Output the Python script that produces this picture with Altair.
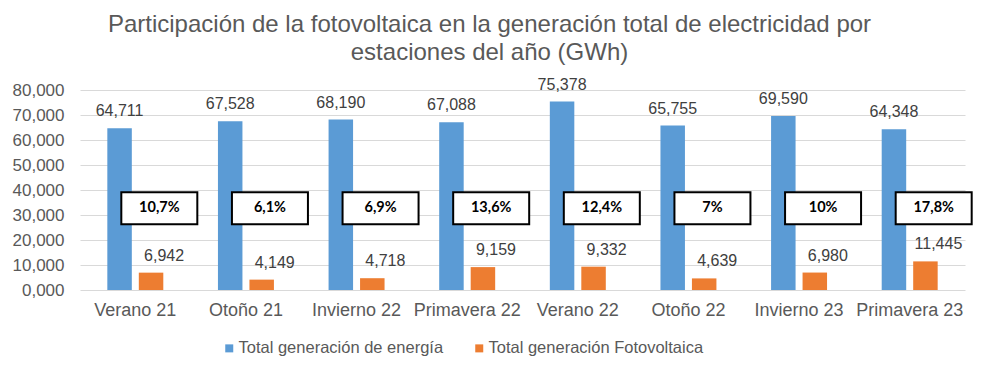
import altair as alt
import pandas as pd

categories = ["Verano 21", "Otoño 21", "Invierno 22", "Primavera 22",
              "Verano 22", "Otoño 22", "Invierno 23", "Primavera 23"]
total_gen = [64711, 67528, 68190, 67088, 75378, 65755, 69590, 64348]
fv_gen = [6942, 4149, 4718, 9159, 9332, 4639, 6980, 11445]
pct_labels = ["10,7%", "6,1%", "6,9%", "13,6%", "12,4%", "7%", "10%", "17,8%"]
series = ["Total generación de energía", "Total generación Fotovoltaica"]
colors = ["#5B9BD5", "#ED7D31"]

rows = []
for c, t, f in zip(categories, total_gen, fv_gen):
    rows.append({"cat": c, "serie": series[0], "value": t})
    rows.append({"cat": c, "serie": series[1], "value": f})
df = pd.DataFrame(rows)

box_df = pd.DataFrame({"cat": categories, "pct": pct_labels,
                       "y1": [26300] * 8, "y2": [39100] * 8, "ym": [32700] * 8})

x_axis = alt.Axis(labelFont="Liberation Sans", labelFontSize=18,
                  labelColor="#595959", labelAngle=0, ticks=False,
                  domain=False, labelPadding=11)
y_axis = alt.Axis(values=list(range(0, 80001, 10000)), labelOverlap=False,
                  labelExpr="datum.value == 0 ? '0,000' : format(datum.value, ',')",
                  labelFont="Liberation Sans", labelFontSize=17,
                  labelColor="#595959", ticks=False, domain=False,
                  labelPadding=16, gridColor="#D9D9D9", gridWidth=1)
x_scale = alt.Scale(paddingInner=0.494, paddingOuter=0.247)
y_scale = alt.Scale(domain=[0, 80000])


def X():
    return alt.X("cat:N", sort=categories, title=None, scale=x_scale, axis=x_axis)


def Y(field):
    return alt.Y(field, scale=y_scale, title=None, axis=y_axis)


base = alt.Chart(df)

bars = base.mark_bar().encode(
    x=X(),
    xOffset=alt.XOffset("serie:N", sort=series,
                        scale=alt.Scale(paddingInner=0.222, paddingOuter=0)),
    y=Y("value:Q"),
    color=alt.Color("serie:N", sort=series,
                    scale=alt.Scale(domain=series, range=colors),
                    legend=alt.Legend(title=None, orient="none", direction="horizontal",
                                      legendX=141, legendY=250,
                                      symbolType="square", symbolSize=64,
                                      symbolStrokeWidth=0,
                                      labelFont="Liberation Sans", labelFontSize=16.5,
                                      labelColor="#595959", labelOffset=1,
                                      labelLimit=400,
                                      columnPadding=27, padding=0)),
)

lab_blue = base.transform_filter(alt.datum.serie == series[0]).mark_text(
    font="Liberation Sans", fontSize=16, color="#404040", baseline="middle", dy=-17
).encode(
    x=X(),
    xOffset=alt.XOffset("serie:N", sort=series),
    y=Y("value:Q"),
    text=alt.Text("value:Q", format=","),
)
lab_orange = base.transform_filter(alt.datum.serie == series[1]).mark_text(
    font="Liberation Sans", fontSize=16, color="#404040", baseline="middle", dy=-17, dx=13
).encode(
    x=X(),
    xOffset=alt.XOffset("serie:N", sort=series),
    y=Y("value:Q"),
    text=alt.Text("value:Q", format=","),
)

boxes = alt.Chart(box_df).mark_bar(width=76, xOffset=24, fill="white",
                                   stroke="black", strokeWidth=2).encode(
    x=X(),
    y=Y("y1:Q"),
    y2="y2:Q",
)
box_text = alt.Chart(box_df).mark_text(font="Lato", fontWeight="bold", fontSize=14.5,
                                       color="black", dx=24, baseline="middle").encode(
    x=X(),
    y=Y("ym:Q"),
    text="pct:N",
)

chart = alt.layer(bars, lab_blue, lab_orange, boxes, box_text).properties(
    width=885, height=200,
    title=alt.TitleParams(
        ["Participación de la fotovoltaica en la generación total de electricidad por",
         "estaciones del año (GWh)"],
        font="Liberation Sans", fontSize=24, fontWeight="normal", color="#595959",
        lineHeight=28, anchor="middle", dx=-33, offset=12),
    autosize=alt.AutoSizeParams(type="none"),
    padding={"left": 72, "top": 82, "right": 8, "bottom": 76},
).configure_view(stroke=None)

chart.save("out.html", embed_options={"renderer": "svg", "actions": False})
